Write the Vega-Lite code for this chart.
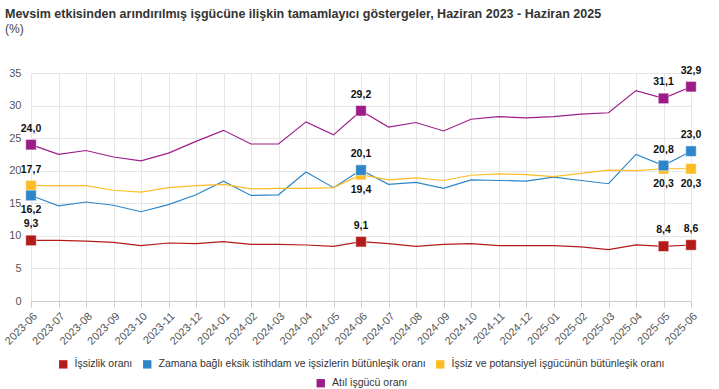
{
  "$schema": "https://vega.github.io/schema/vega-lite/v6.json",
  "autosize": {"type": "none"},
  "width": 660,
  "height": 228,
  "padding": {"left": 31, "top": 73, "right": 28, "bottom": 88},
  "title": {
    "text": "Mevsim etkisinden arındırılmış işgücüne ilişkin tamamlayıcı göstergeler, Haziran 2023 - Haziran 2025",
    "subtitle": "(%)",
    "anchor": "start",
    "frame": "group",
    "dx": -26,
    "offset": 31
  },
  "config": {
    "font": "Liberation Sans",
    "locale": {"number": {"decimal": ",", "thousands": ".", "grouping": [3], "currency": ["", " TL"]}},
    "view": {"stroke": null},
    "title": {"font": "Liberation Sans", "fontSize": 12.5, "fontWeight": "bold", "color": "#333333", "subtitleFont": "Liberation Sans", "subtitleFontSize": 12, "subtitleColor": "#444444", "subtitlePadding": 3},
    "legend": {
      "layout": {"bottom": {"anchor": "middle", "direction": "vertical", "center": true, "margin": 8}}
    }
  },
  "datasets": {
    "rows": [
      {"d": "2023-06", "s": "İşsizlik oranı", "v": 9.3},
      {"d": "2023-07", "s": "İşsizlik oranı", "v": 9.3},
      {"d": "2023-08", "s": "İşsizlik oranı", "v": 9.2},
      {"d": "2023-09", "s": "İşsizlik oranı", "v": 9.0},
      {"d": "2023-10", "s": "İşsizlik oranı", "v": 8.5},
      {"d": "2023-11", "s": "İşsizlik oranı", "v": 8.9},
      {"d": "2023-12", "s": "İşsizlik oranı", "v": 8.8},
      {"d": "2024-01", "s": "İşsizlik oranı", "v": 9.1},
      {"d": "2024-02", "s": "İşsizlik oranı", "v": 8.7},
      {"d": "2024-03", "s": "İşsizlik oranı", "v": 8.7},
      {"d": "2024-04", "s": "İşsizlik oranı", "v": 8.6},
      {"d": "2024-05", "s": "İşsizlik oranı", "v": 8.4},
      {"d": "2024-06", "s": "İşsizlik oranı", "v": 9.1},
      {"d": "2024-07", "s": "İşsizlik oranı", "v": 8.8},
      {"d": "2024-08", "s": "İşsizlik oranı", "v": 8.4},
      {"d": "2024-09", "s": "İşsizlik oranı", "v": 8.7},
      {"d": "2024-10", "s": "İşsizlik oranı", "v": 8.8},
      {"d": "2024-11", "s": "İşsizlik oranı", "v": 8.5},
      {"d": "2024-12", "s": "İşsizlik oranı", "v": 8.5},
      {"d": "2025-01", "s": "İşsizlik oranı", "v": 8.5},
      {"d": "2025-02", "s": "İşsizlik oranı", "v": 8.3},
      {"d": "2025-03", "s": "İşsizlik oranı", "v": 7.9},
      {"d": "2025-04", "s": "İşsizlik oranı", "v": 8.6},
      {"d": "2025-05", "s": "İşsizlik oranı", "v": 8.4},
      {"d": "2025-06", "s": "İşsizlik oranı", "v": 8.6},
      {"d": "2023-06", "s": "Zamana bağlı eksik istihdam ve işsizlerin bütünleşik oranı", "v": 16.2},
      {"d": "2023-07", "s": "Zamana bağlı eksik istihdam ve işsizlerin bütünleşik oranı", "v": 14.6},
      {"d": "2023-08", "s": "Zamana bağlı eksik istihdam ve işsizlerin bütünleşik oranı", "v": 15.2},
      {"d": "2023-09", "s": "Zamana bağlı eksik istihdam ve işsizlerin bütünleşik oranı", "v": 14.7},
      {"d": "2023-10", "s": "Zamana bağlı eksik istihdam ve işsizlerin bütünleşik oranı", "v": 13.7},
      {"d": "2023-11", "s": "Zamana bağlı eksik istihdam ve işsizlerin bütünleşik oranı", "v": 14.8},
      {"d": "2023-12", "s": "Zamana bağlı eksik istihdam ve işsizlerin bütünleşik oranı", "v": 16.3},
      {"d": "2024-01", "s": "Zamana bağlı eksik istihdam ve işsizlerin bütünleşik oranı", "v": 18.4},
      {"d": "2024-02", "s": "Zamana bağlı eksik istihdam ve işsizlerin bütünleşik oranı", "v": 16.2},
      {"d": "2024-03", "s": "Zamana bağlı eksik istihdam ve işsizlerin bütünleşik oranı", "v": 16.3},
      {"d": "2024-04", "s": "Zamana bağlı eksik istihdam ve işsizlerin bütünleşik oranı", "v": 19.8},
      {"d": "2024-05", "s": "Zamana bağlı eksik istihdam ve işsizlerin bütünleşik oranı", "v": 17.4},
      {"d": "2024-06", "s": "Zamana bağlı eksik istihdam ve işsizlerin bütünleşik oranı", "v": 20.1},
      {"d": "2024-07", "s": "Zamana bağlı eksik istihdam ve işsizlerin bütünleşik oranı", "v": 17.9},
      {"d": "2024-08", "s": "Zamana bağlı eksik istihdam ve işsizlerin bütünleşik oranı", "v": 18.2},
      {"d": "2024-09", "s": "Zamana bağlı eksik istihdam ve işsizlerin bütünleşik oranı", "v": 17.3},
      {"d": "2024-10", "s": "Zamana bağlı eksik istihdam ve işsizlerin bütünleşik oranı", "v": 18.6},
      {"d": "2024-11", "s": "Zamana bağlı eksik istihdam ve işsizlerin bütünleşik oranı", "v": 18.5},
      {"d": "2024-12", "s": "Zamana bağlı eksik istihdam ve işsizlerin bütünleşik oranı", "v": 18.4},
      {"d": "2025-01", "s": "Zamana bağlı eksik istihdam ve işsizlerin bütünleşik oranı", "v": 19.0},
      {"d": "2025-02", "s": "Zamana bağlı eksik istihdam ve işsizlerin bütünleşik oranı", "v": 18.5},
      {"d": "2025-03", "s": "Zamana bağlı eksik istihdam ve işsizlerin bütünleşik oranı", "v": 18.0},
      {"d": "2025-04", "s": "Zamana bağlı eksik istihdam ve işsizlerin bütünleşik oranı", "v": 22.5},
      {"d": "2025-05", "s": "Zamana bağlı eksik istihdam ve işsizlerin bütünleşik oranı", "v": 20.8},
      {"d": "2025-06", "s": "Zamana bağlı eksik istihdam ve işsizlerin bütünleşik oranı", "v": 23.0},
      {"d": "2023-06", "s": "İşsiz ve potansiyel işgücünün bütünleşik oranı", "v": 17.7},
      {"d": "2023-07", "s": "İşsiz ve potansiyel işgücünün bütünleşik oranı", "v": 17.7},
      {"d": "2023-08", "s": "İşsiz ve potansiyel işgücünün bütünleşik oranı", "v": 17.7},
      {"d": "2023-09", "s": "İşsiz ve potansiyel işgücünün bütünleşik oranı", "v": 17.0},
      {"d": "2023-10", "s": "İşsiz ve potansiyel işgücünün bütünleşik oranı", "v": 16.7},
      {"d": "2023-11", "s": "İşsiz ve potansiyel işgücünün bütünleşik oranı", "v": 17.4},
      {"d": "2023-12", "s": "İşsiz ve potansiyel işgücünün bütünleşik oranı", "v": 17.7},
      {"d": "2024-01", "s": "İşsiz ve potansiyel işgücünün bütünleşik oranı", "v": 17.9},
      {"d": "2024-02", "s": "İşsiz ve potansiyel işgücünün bütünleşik oranı", "v": 17.2},
      {"d": "2024-03", "s": "İşsiz ve potansiyel işgücünün bütünleşik oranı", "v": 17.3},
      {"d": "2024-04", "s": "İşsiz ve potansiyel işgücünün bütünleşik oranı", "v": 17.3},
      {"d": "2024-05", "s": "İşsiz ve potansiyel işgücünün bütünleşik oranı", "v": 17.4},
      {"d": "2024-06", "s": "İşsiz ve potansiyel işgücünün bütünleşik oranı", "v": 19.4},
      {"d": "2024-07", "s": "İşsiz ve potansiyel işgücünün bütünleşik oranı", "v": 18.6},
      {"d": "2024-08", "s": "İşsiz ve potansiyel işgücünün bütünleşik oranı", "v": 18.9},
      {"d": "2024-09", "s": "İşsiz ve potansiyel işgücünün bütünleşik oranı", "v": 18.5},
      {"d": "2024-10", "s": "İşsiz ve potansiyel işgücünün bütünleşik oranı", "v": 19.3},
      {"d": "2024-11", "s": "İşsiz ve potansiyel işgücünün bütünleşik oranı", "v": 19.5},
      {"d": "2024-12", "s": "İşsiz ve potansiyel işgücünün bütünleşik oranı", "v": 19.4},
      {"d": "2025-01", "s": "İşsiz ve potansiyel işgücünün bütünleşik oranı", "v": 19.1},
      {"d": "2025-02", "s": "İşsiz ve potansiyel işgücünün bütünleşik oranı", "v": 19.6},
      {"d": "2025-03", "s": "İşsiz ve potansiyel işgücünün bütünleşik oranı", "v": 20.1},
      {"d": "2025-04", "s": "İşsiz ve potansiyel işgücünün bütünleşik oranı", "v": 20.0},
      {"d": "2025-05", "s": "İşsiz ve potansiyel işgücünün bütünleşik oranı", "v": 20.3},
      {"d": "2025-06", "s": "İşsiz ve potansiyel işgücünün bütünleşik oranı", "v": 20.3},
      {"d": "2023-06", "s": "Atıl işgücü oranı", "v": 24.0},
      {"d": "2023-07", "s": "Atıl işgücü oranı", "v": 22.5},
      {"d": "2023-08", "s": "Atıl işgücü oranı", "v": 23.1},
      {"d": "2023-09", "s": "Atıl işgücü oranı", "v": 22.1},
      {"d": "2023-10", "s": "Atıl işgücü oranı", "v": 21.5},
      {"d": "2023-11", "s": "Atıl işgücü oranı", "v": 22.7},
      {"d": "2023-12", "s": "Atıl işgücü oranı", "v": 24.5},
      {"d": "2024-01", "s": "Atıl işgücü oranı", "v": 26.2},
      {"d": "2024-02", "s": "Atıl işgücü oranı", "v": 24.1},
      {"d": "2024-03", "s": "Atıl işgücü oranı", "v": 24.1},
      {"d": "2024-04", "s": "Atıl işgücü oranı", "v": 27.5},
      {"d": "2024-05", "s": "Atıl işgücü oranı", "v": 25.5},
      {"d": "2024-06", "s": "Atıl işgücü oranı", "v": 29.2},
      {"d": "2024-07", "s": "Atıl işgücü oranı", "v": 26.7},
      {"d": "2024-08", "s": "Atıl işgücü oranı", "v": 27.4},
      {"d": "2024-09", "s": "Atıl işgücü oranı", "v": 26.1},
      {"d": "2024-10", "s": "Atıl işgücü oranı", "v": 27.9},
      {"d": "2024-11", "s": "Atıl işgücü oranı", "v": 28.3},
      {"d": "2024-12", "s": "Atıl işgücü oranı", "v": 28.1},
      {"d": "2025-01", "s": "Atıl işgücü oranı", "v": 28.3},
      {"d": "2025-02", "s": "Atıl işgücü oranı", "v": 28.7},
      {"d": "2025-03", "s": "Atıl işgücü oranı", "v": 28.9},
      {"d": "2025-04", "s": "Atıl işgücü oranı", "v": 32.3},
      {"d": "2025-05", "s": "Atıl işgücü oranı", "v": 31.1},
      {"d": "2025-06", "s": "Atıl işgücü oranı", "v": 32.9}
    ]
  },
  "data": {"name": "rows"},
  "encoding": {
    "x": {
      "field": "d", "type": "ordinal", "title": null,
      "scale": {"type": "point", "padding": 0},
      "axis": {
        "labelAngle": -45, "labelFontSize": 11, "labelColor": "#555555", "labelPadding": 3,
        "domainColor": "#cccccc", "tickColor": "#cccccc", "tickSize": 6,
        "grid": true, "gridColor": "#e6e6e6"
      }
    },
    "y": {
      "field": "v", "type": "quantitative", "title": null,
      "scale": {"domain": [0, 35], "nice": false},
      "axis": {
        "values": [0, 5, 10, 15, 20, 25, 30, 35],
        "labelFontSize": 11, "labelColor": "#555555", "labelPadding": 10,
        "domain": false, "ticks": false, "gridColor": "#e6e6e6"
      }
    }
  },
  "layer": [
    {
      "mark": {"type": "line", "strokeWidth": 1.2},
      "encoding": {
        "color": {
          "field": "s", "type": "nominal",
          "scale": {
            "domain": ["İşsizlik oranı", "Zamana bağlı eksik istihdam ve işsizlerin bütünleşik oranı", "İşsiz ve potansiyel işgücünün bütünleşik oranı", "Atıl işgücü oranı"],
            "range": ["#b31b1b", "#2e86c8", "#fcbd24", "#9c1c8a"]
          },
          "legend": {
            "orient": "bottom", "direction": "horizontal", "title": null, "offset": 12,
            "values": ["İşsizlik oranı", "Zamana bağlı eksik istihdam ve işsizlerin bütünleşik oranı", "İşsiz ve potansiyel işgücünün bütünleşik oranı"],
            "symbolType": "square", "symbolSize": 70, "labelFontSize": 10.5, "labelColor": "#333333", "labelOffset": 6, "columnPadding": 9, "labelLimit": 0,
            "encode": {"symbols": {"update": {"fill": {"scale": "color", "field": "value"}, "strokeWidth": {"value": 0}}}}
          }
        }
      }
    },
    {
      "transform": [{"filter": "indexof(['2023-06','2024-06','2025-05','2025-06'], datum.d) >= 0"}],
      "mark": {"type": "point", "shape": "square", "filled": true, "size": 110, "opacity": 1, "stroke": "#ffffff", "strokeWidth": 0.8, "strokeOpacity": 0.6},
      "encoding": {
        "order": {"field": "s", "sort": "descending"},
        "fill": {
          "field": "s", "type": "nominal",
          "scale": {
            "domain": ["Atıl işgücü oranı", "İşsizlik oranı", "Zamana bağlı eksik istihdam ve işsizlerin bütünleşik oranı", "İşsiz ve potansiyel işgücünün bütünleşik oranı"],
            "range": ["#9c1c8a", "#b31b1b", "#2e86c8", "#fcbd24"]
          },
          "legend": {
            "orient": "bottom", "direction": "horizontal", "title": null,
            "values": ["Atıl işgücü oranı"],
            "symbolType": "square", "symbolSize": 70, "labelFontSize": 10.5, "labelColor": "#333333", "labelOffset": 6, "labelLimit": 0,
            "symbolStrokeWidth": 0
          }
        }
      }
    },
    {
      "transform": [
        {"filter": "indexof(['2023-06','2024-06','2025-05','2025-06'], datum.d) >= 0"},
        {"filter": "!((datum.s == 'Zamana bağlı eksik istihdam ve işsizlerin bütünleşik oranı' && datum.d == '2023-06') || (datum.s == 'İşsiz ve potansiyel işgücünün bütünleşik oranı' && datum.d != '2023-06'))"}
      ],
      "mark": {"type": "text", "dy": -16, "fontSize": 10.5, "fontWeight": "bold", "color": "#111111"},
      "encoding": {"text": {"field": "v", "type": "quantitative", "format": ".1f"}}
    },
    {
      "transform": [
        {"filter": "indexof(['2023-06','2024-06','2025-05','2025-06'], datum.d) >= 0"},
        {"filter": "(datum.s == 'Zamana bağlı eksik istihdam ve işsizlerin bütünleşik oranı' && datum.d == '2023-06') || (datum.s == 'İşsiz ve potansiyel işgücünün bütünleşik oranı' && datum.d != '2023-06')"}
      ],
      "mark": {"type": "text", "dy": 15, "fontSize": 10.5, "fontWeight": "bold", "color": "#111111"},
      "encoding": {"text": {"field": "v", "type": "quantitative", "format": ".1f"}}
    }
  ]
}
